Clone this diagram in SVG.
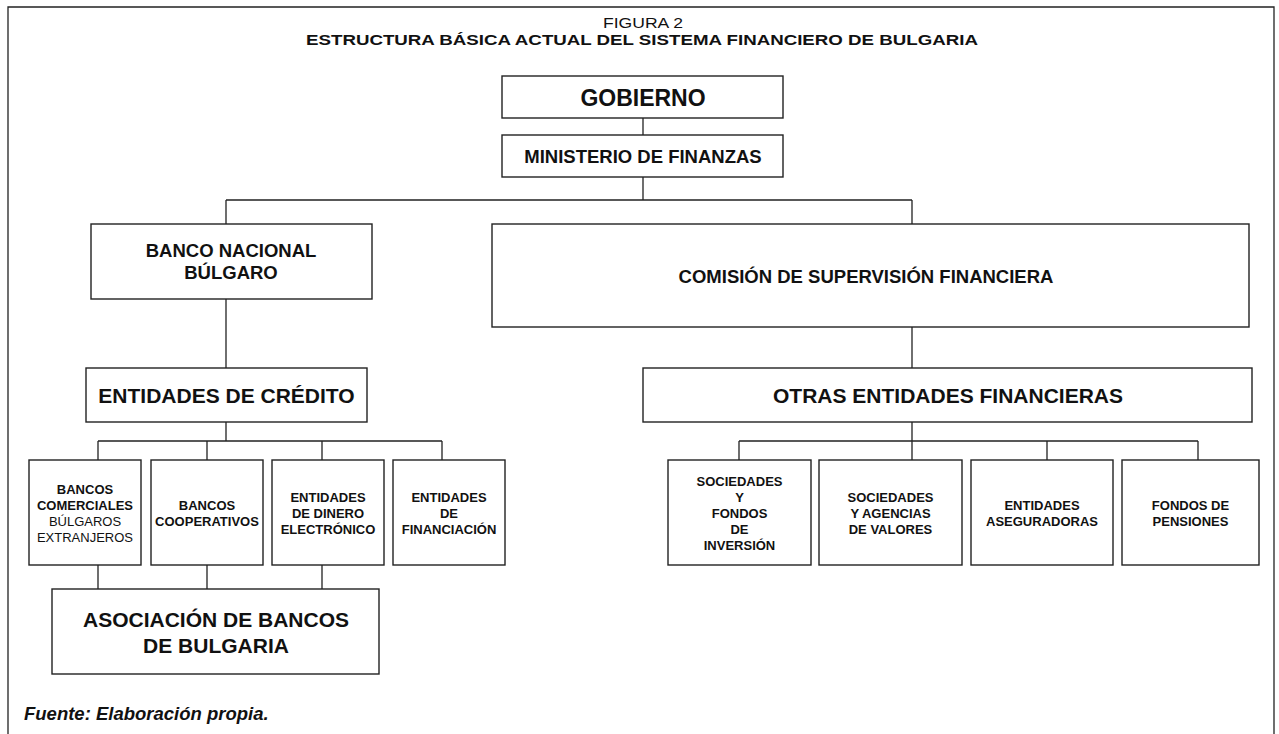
<svg xmlns="http://www.w3.org/2000/svg" width="1279" height="734" viewBox="0 0 1279 734">
<style>
  .box { fill: #fff; stroke: #222; stroke-width: 1.4; }
  .ln { fill: none; stroke: #222; stroke-width: 1.3; }
  text { font-family: "Liberation Sans", Arial, Helvetica, sans-serif; fill: #111; text-anchor: middle; }
  .b { font-weight: bold; }
  .r { font-weight: normal; }
  .s13 { font-size: 13px; }
  .s18 { font-size: 18.5px; }
  .s21 { font-size: 21px; }
  .s23 { font-size: 23px; }
</style>
<rect width="1279" height="734" fill="#fff"/>
<g id="frame">
  <path class="ln" d="M8,734 V7 H1274 V734" stroke-width="1.5"/>
</g>
<g id="titles">
  <text x="643" y="28" class="r" style="font-size:15px" textLength="80" lengthAdjust="spacingAndGlyphs">FIGURA 2</text>
  <text x="642" y="45" class="b" style="font-size:15px" textLength="672" lengthAdjust="spacingAndGlyphs">ESTRUCTURA BÁSICA ACTUAL DEL SISTEMA FINANCIERO DE BULGARIA</text>
</g>
<g id="connectors">
  <path class="ln" d="M643,118 V135"/>
  <path class="ln" d="M643,177 V200 M226,200 H912 M226,200 V224 M912,200 V224"/>
  <path class="ln" d="M226,299 V368"/>
  <path class="ln" d="M912,327 V368"/>
  <path class="ln" d="M226,422 V441 M98,441 H442 M98,441 V460 M207,441 V460 M322,441 V460 M442,441 V460"/>
  <path class="ln" d="M98,565 V589 M207,565 V589 M322,565 V589"/>
  <path class="ln" d="M912,422 V460 M739,441 H1198 M739,441 V460 M1047,441 V460 M1198,441 V460"/>
</g>
<g id="gobierno">
  <rect class="box" x="502" y="76" width="281" height="42"/>
  <text x="643" y="106" class="b s23">GOBIERNO</text>
</g>
<g id="ministerio">
  <rect class="box" x="502" y="135" width="281" height="42"/>
  <text x="643" y="163" class="b s18">MINISTERIO DE FINANZAS</text>
</g>
<g id="bnb">
  <rect class="box" x="91" y="224" width="281" height="75"/>
  <text x="231" y="257" class="b s18">BANCO NACIONAL</text>
  <text x="231" y="279" class="b s18">BÚLGARO</text>
</g>
<g id="csf">
  <rect class="box" x="492" y="224" width="757" height="103"/>
  <text x="866" y="283" class="b s18">COMISIÓN DE SUPERVISIÓN FINANCIERA</text>
</g>
<g id="entidades-credito">
  <rect class="box" x="86" y="368" width="281" height="54"/>
  <text x="226.5" y="403" class="b s21">ENTIDADES DE CRÉDITO</text>
</g>
<g id="otras">
  <rect class="box" x="643" y="368" width="609" height="54"/>
  <text x="948" y="403" class="b s21">OTRAS ENTIDADES FINANCIERAS</text>
</g>
<g id="bancos-comerciales">
  <rect class="box" x="29" y="460" width="112" height="105"/>
  <text x="85" y="494" class="b s13">BANCOS</text>
  <text x="85" y="510" class="b s13">COMERCIALES</text>
  <text x="85" y="526" class="r s13">BÚLGAROS</text>
  <text x="85" y="542" class="r s13">EXTRANJEROS</text>
</g>
<g id="bancos-cooperativos">
  <rect class="box" x="151" y="460" width="112" height="105"/>
  <text x="207" y="510" class="b s13">BANCOS</text>
  <text x="207" y="526" class="b s13">COOPERATIVOS</text>
</g>
<g id="dinero-electronico">
  <rect class="box" x="272" y="460" width="112" height="105"/>
  <text x="328" y="502" class="b s13">ENTIDADES</text>
  <text x="328" y="518" class="b s13">DE DINERO</text>
  <text x="328" y="534" class="b s13">ELECTRÓNICO</text>
</g>
<g id="financiacion">
  <rect class="box" x="393" y="460" width="112" height="105"/>
  <text x="449" y="502" class="b s13">ENTIDADES</text>
  <text x="449" y="518" class="b s13">DE</text>
  <text x="449" y="534" class="b s13">FINANCIACIÓN</text>
</g>
<g id="asociacion">
  <rect class="box" x="52" y="589" width="327" height="85"/>
  <text x="216" y="627" class="b s21">ASOCIACIÓN DE BANCOS</text>
  <text x="216" y="653" class="b s21">DE BULGARIA</text>
</g>
<g id="fondos-inversion">
  <rect class="box" x="668" y="460" width="143" height="105"/>
  <text x="739.5" y="486" class="b s13">SOCIEDADES</text>
  <text x="739.5" y="502" class="b s13">Y</text>
  <text x="739.5" y="518" class="b s13">FONDOS</text>
  <text x="739.5" y="534" class="b s13">DE</text>
  <text x="739.5" y="550" class="b s13">INVERSIÓN</text>
</g>
<g id="agencias-valores">
  <rect class="box" x="819" y="460" width="143" height="105"/>
  <text x="890.5" y="502" class="b s13">SOCIEDADES</text>
  <text x="890.5" y="518" class="b s13">Y AGENCIAS</text>
  <text x="890.5" y="534" class="b s13">DE VALORES</text>
</g>
<g id="aseguradoras">
  <rect class="box" x="971" y="460" width="142" height="105"/>
  <text x="1042" y="510" class="b s13">ENTIDADES</text>
  <text x="1042" y="526" class="b s13">ASEGURADORAS</text>
</g>
<g id="pensiones">
  <rect class="box" x="1122" y="460" width="137" height="105"/>
  <text x="1190.5" y="510" class="b s13">FONDOS DE</text>
  <text x="1190.5" y="526" class="b s13">PENSIONES</text>
</g>
<g id="fuente">
  <text x="24" y="720" class="b s18" style="font-style:italic;text-anchor:start">Fuente: Elaboración propia.</text>
</g>
</svg>
